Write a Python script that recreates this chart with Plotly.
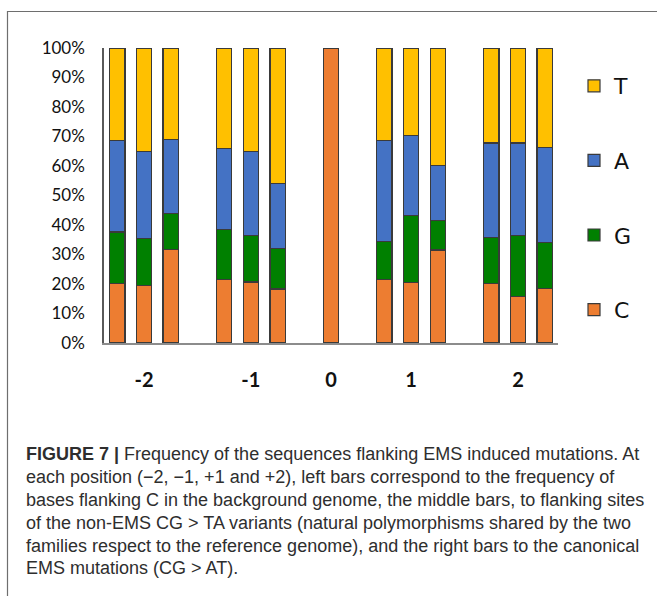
import plotly.graph_objects as go

# ---- data ----
positions = ["-2", "-1", "0", "1", "2"]
bars_per_position = [3, 3, 1, 3, 3]
bases = ["C", "G", "A", "T"]
legend_rank = {"T": 1, "A": 2, "G": 3, "C": 4}
C = [20.1, 19.4, 31.6, 21.4, 20.7, 18.3, 100, 21.5, 20.5, 31.5, 20.3, 15.9, 18.6]
G = [17.5, 16.0, 12.4, 17.0, 15.7, 13.8, 0, 12.9, 22.7, 10.0, 15.4, 20.6, 15.5]
A = [31.0, 29.5, 25.0, 27.5, 28.5, 22.0, 0, 34.2, 27.1, 18.7, 32.1, 31.3, 32.2]
T = [31.4, 35.1, 31.0, 34.1, 35.1, 45.9, 0, 31.4, 29.7, 39.8, 32.2, 32.2, 33.7]
values = {"C": C, "G": G, "A": A, "T": T}
colors = {"C": "#ED7D31", "G": "#008000", "A": "#4472C4", "T": "#FFC000"}
y_ticks = list(range(0, 101, 10))
y_ticktext = [f"{v}%" for v in y_ticks]

caption_lines = [
    ("<b>FIGURE 7 |</b> Frequency of the sequences flanking EMS induced mutations. At"),
    "each position (\u22122, \u22121, +1 and +2), left bars correspond to the frequency of",
    "bases flanking C in the background genome, the middle bars, to flanking sites",
    "of the non-EMS CG > TA variants (natural polymorphisms shared by the two",
    "families respect to the reference genome), and the right bars to the canonical",
    "EMS mutations (CG > AT).",
]

# slot positions: bars within a group are consecutive, one empty slot between groups
xs, tick_x = [], []
slot = 0
for n in bars_per_position:
    group = list(range(slot, slot + n))
    xs.extend(group)
    tick_x.append(sum(group) / n)
    slot += n + 1
last_slot = xs[-1]

W, H = 657, 596
L, R, TOP, B = 104, 99, 48, 253
pw, ph = W - L - R, H - TOP - B


def px(x):
    return (x - L) / pw


def py(y):
    return (H - B - y) / ph


fig = go.Figure()
for b in bases:
    fig.add_trace(go.Bar(
        x=xs, y=values[b], name=b, width=0.575,
        marker=dict(color=colors[b], line=dict(color="#3a3a3a", width=1.2)),
        legendgroup=b, legendrank=legend_rank[b],
    ))

annotations = []
line_y = [453.5, 476.5, 499.5, 522.5, 545.5, 568]
for text, yy in zip(caption_lines, line_y):
    annotations.append(dict(
        text=text, xref="paper", yref="paper", x=px(23.5), y=py(yy),
        xanchor="left", yanchor="middle", showarrow=False, align="left",
        font=dict(family="Liberation Sans", size=18, color="#2e2e2e"),
    ))

fig.update_layout(
    width=W, height=H, barmode="stack",
    margin=dict(l=L, r=R, t=TOP, b=B, autoexpand=False),
    paper_bgcolor="white", plot_bgcolor="white",
    showlegend=True,
    legend=dict(
        x=px(574), y=py(65), xanchor="left", yanchor="top",
        traceorder="grouped", tracegroupgap=43,
        font=dict(family="DejaVu Sans", size=22, color="#111111"),
        bgcolor="rgba(0,0,0,0)",
    ),
    xaxis=dict(
        range=[-0.5, last_slot + 0.5], tickmode="array", tickvals=tick_x,
        ticktext=positions, showgrid=False, zeroline=False, ticks="",
        showline=True, linecolor="#8c8c8c", linewidth=1.5,
        tickfont=dict(family="Lato", size=20, color="#111111", weight="bold"),
        ticklabelstandoff=18,
    ),
    yaxis=dict(
        range=[0, 100], tickmode="array", tickvals=y_ticks,
        ticktext=y_ticktext, showgrid=False, zeroline=False, ticks="",
        showline=True, linecolor="#595959", linewidth=1.5,
        tickfont=dict(family="Lato", size=17, color="#111111"),
        ticklabelstandoff=14,
    ),
    annotations=annotations,
    shapes=[dict(type="rect", xref="paper", yref="paper",
                 x0=px(7.5), y0=py(720), x1=px(720), y1=py(11.5),
                 line=dict(color="#6e6e6e", width=1.2), layer="below")],
)

fig.write_html("out.html", config={"displayModeBar": False},
               post_script="document.body.style.margin='0';")
